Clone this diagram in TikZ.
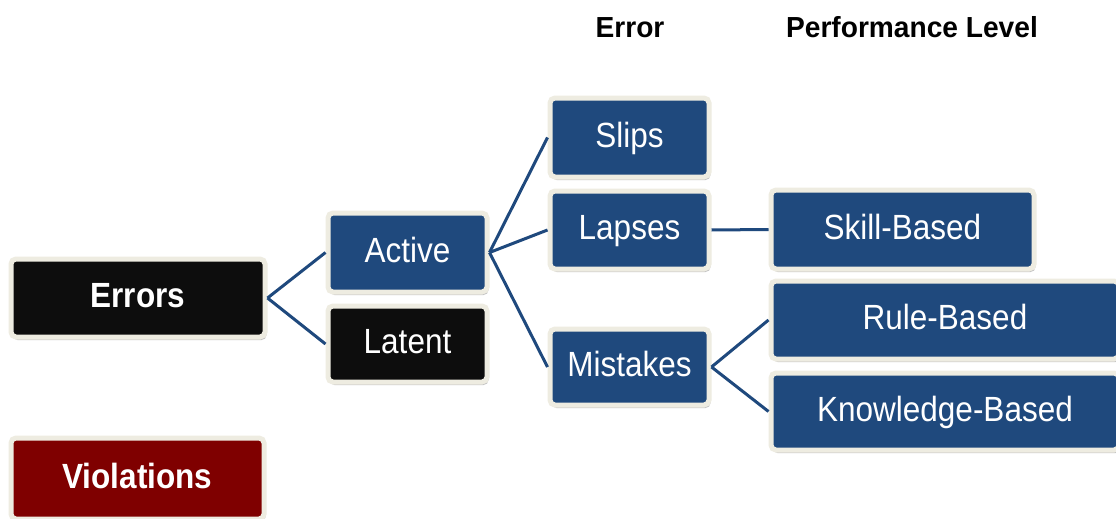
\documentclass[tikz,border=0pt]{standalone}
\usepackage{fontspec}
\setmainfont{Liberation Sans}[FakeStretch=0.9]
\newfontfamily\headfont{Liberation Sans}[FakeStretch=0.97]
\usetikzlibrary{shadows}
\definecolor{boxblue}{HTML}{1F497D}
\definecolor{boxblack}{HTML}{0D0D0D}
\definecolor{boxred}{HTML}{7F0000}
\definecolor{rim}{HTML}{EEECE1}
\definecolor{wire}{HTML}{1F497D}
\tikzset{
  card/.style={draw=rim, line width=5pt, rounded corners=5pt, inner sep=0pt,
    text=white, text height=19pt, text depth=0pt,
    font=\fontsize{35}{40}\selectfont,
    drop shadow={shadow xshift=1.5pt, shadow yshift=-3pt, opacity=0.4, fill=black!60}},
  bluecard/.style={card, fill=boxblue},
  blackcard/.style={card, fill=boxblack},
  redcard/.style={card, fill=boxred},
  wiring/.style={draw=wire, line width=3pt},
  heading/.style={font=\headfont\fontsize{29}{34}\selectfont\bfseries, text=black, inner sep=0pt}
}
\begin{document}
\begin{tikzpicture}[x=1pt, y=-1pt]
\useasboundingbox (0,0) rectangle (1116,519);
\fill[white] (0,0) rectangle (1116,519);

% column headings
\node[heading] (hErr) at (630,28) {Error};
\node[heading] (hPerf) at (912,27) {Performance Level};

% boxes
\node[blackcard, minimum width=254pt, minimum height=78pt, font=\fontsize{35}{40}\selectfont\bfseries] (errors) at (138,298) {Errors};
\node[bluecard, minimum width=159pt, minimum height=79pt] (active) at (407.5,252.5) {Active};
\node[blackcard, minimum width=159pt, minimum height=76pt] (latent) at (407.5,344) {Latent};
\node[bluecard, minimum width=159pt, minimum height=79pt] (slips) at (629.5,137.5) {Slips};
\node[bluecard, minimum width=159pt, minimum height=78pt] (lapses) at (629.5,230) {Lapses};
\node[bluecard, minimum width=159pt, minimum height=76pt] (mistakes) at (629.5,367) {Mistakes};
\node[bluecard, minimum width=263pt, minimum height=79pt] (skill) at (902.5,229.5) {Skill-Based};
\node[bluecard, minimum width=348pt, minimum height=78pt] (rule) at (945,320) {Rule-Based};
\node[bluecard, minimum width=348pt, minimum height=77pt] (knowledge) at (945,411.5) {Knowledge-Based};
\node[redcard, minimum width=253pt, minimum height=81pt, font=\fontsize{35}{40}\selectfont\bfseries] (violations) at (137.5,478.5) {Violations};

% connectors
\draw[wiring] (errors.east) -- (active.west);
\draw[wiring] (errors.east) -- (latent.west);
\draw[wiring] (active.east) -- (slips.west);
\draw[wiring] (active.east) -- (lapses.west);
\draw[wiring] (active.east) -- (mistakes.west);
\draw[wiring] (lapses.east) -- (skill.west);
\draw[wiring] (mistakes.east) -- (rule.west);
\draw[wiring] (mistakes.east) -- (knowledge.west);
\end{tikzpicture}
\end{document}
